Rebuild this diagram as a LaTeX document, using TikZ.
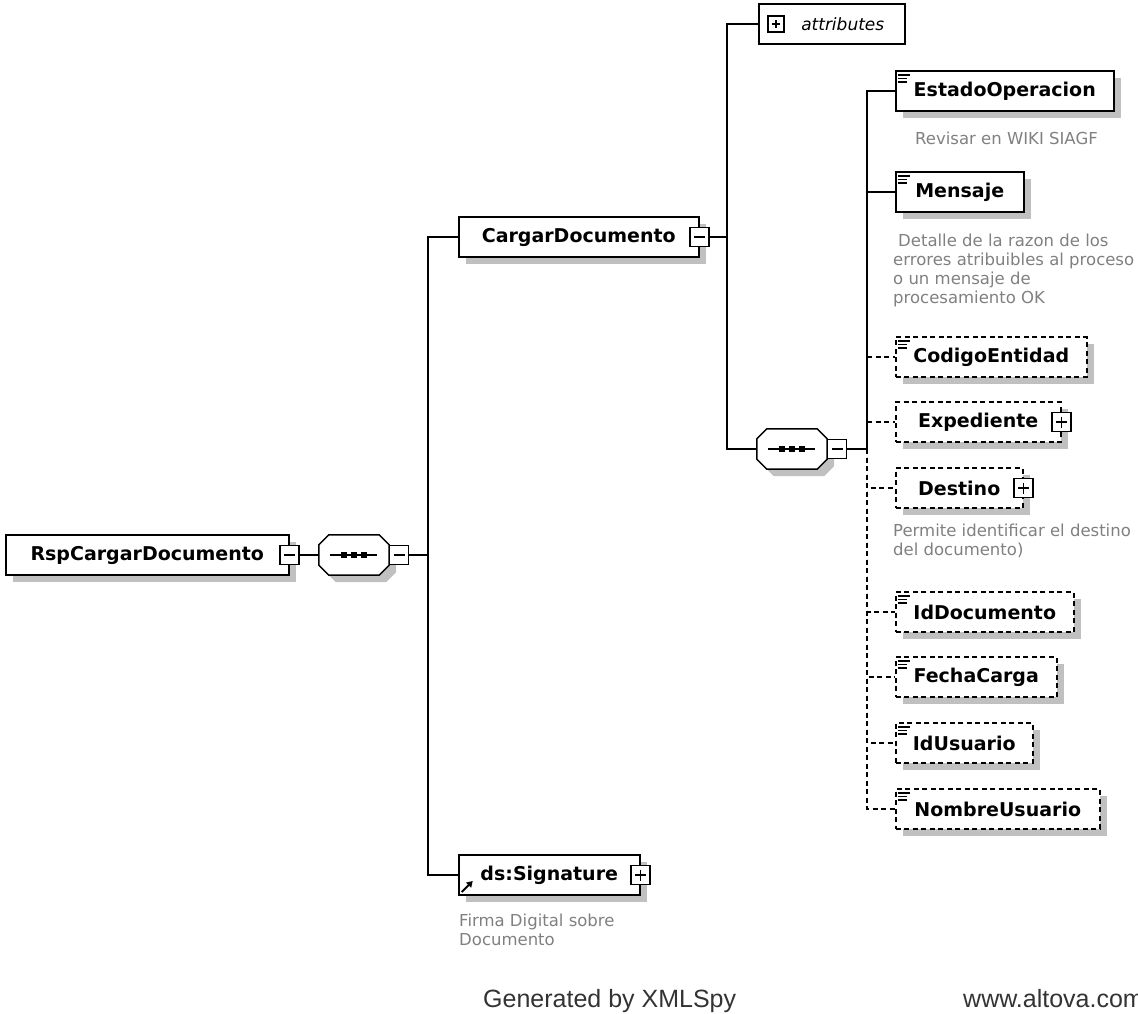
\documentclass[tikz,border=0pt]{standalone}
\usepackage{fontspec}
\setmainfont{DejaVu Sans}
\newfontfamily\fussfont{Liberation Sans}
\usetikzlibrary{shadows,arrows.meta}
\definecolor{schatten}{RGB}{192,192,192}
\definecolor{notiz}{RGB}{128,128,128}

%Achteck der Sequenz um einen Knoten
\newcommand{\achteck}[1]{([xshift=10pt]#1.north west) -- ([xshift=-10pt]#1.north east) -- ([yshift=-10pt]#1.north east)
	-- ([yshift=10pt]#1.south east) -- ([xshift=-10pt]#1.south east) -- ([xshift=10pt]#1.south west)
	-- ([yshift=10pt]#1.south west) -- ([yshift=-10pt]#1.north west) -- cycle}
\newcommand{\sequenz}[1]{%
	\fill[schatten, transform canvas={xshift=7pt, yshift=-7pt}] \achteck{#1};
	\draw[verb, fill=white] \achteck{#1};
	\draw[verb] ([xshift=11pt]#1.west) -- ([xshift=-12pt]#1.east);
	\foreach \d in {-10,0,10}
		\fill[black] ([xshift=\d pt]#1.center) +(-3pt,-3pt) rectangle +(3pt,3pt);
}

\tikzset{
	verb/.style={line width=1.5pt},
	gestr/.style={dash pattern=on 5pt off 3.5pt},
	elem/.style={draw, fill=white, line width=1.5pt, minimum height=40pt, inner xsep=2pt, anchor=west,
		font=\fontsize{19}{23}\selectfont\bfseries,
		drop shadow={shadow xshift=7pt, shadow yshift=-7pt, fill=schatten, opacity=1}},
	opt/.style={elem, gestr},
	einfach/.style={path picture={
			\draw[solid, line width=1.1pt] ([xshift=2pt,yshift=-4pt]path picture bounding box.north west) -- ++(12pt,0);
			\draw[solid, line width=1.1pt] ([xshift=2pt,yshift=-7.5pt]path picture bounding box.north west) -- ++(9pt,0);
			\draw[solid, line width=1.1pt] ([xshift=2pt,yshift=-11pt]path picture bounding box.north west) -- ++(9pt,0);}},
	verweis/.style={path picture={
			\draw[solid, line width=2pt, -{Triangle[length=6pt,width=7pt]}] ([xshift=3pt,yshift=3pt]path picture bounding box.south west) -- ++(11pt,11pt);}},
	klein/.style={draw, fill=white, solid, line width=1.2pt, minimum size=19pt, inner sep=0pt},
	minus/.style={klein, path picture={
			\draw[line width=1.2pt] ([xshift=4pt]path picture bounding box.west) -- ([xshift=-4pt]path picture bounding box.east);}},
	plus/.style={klein, path picture={
			\draw[line width=1.2pt] ([xshift=4pt]path picture bounding box.west) -- ([xshift=-4pt]path picture bounding box.east);
			\draw[line width=1.2pt] ([yshift=-4pt]path picture bounding box.north) -- ([yshift=4pt]path picture bounding box.south);}},
	seq/.style={minimum width=70pt, minimum height=40pt, inner sep=0pt},
	notiz/.style={font=\fontsize{16.5}{19}\selectfont, text=notiz, align=left, inner sep=0pt},
	fuss/.style={font=\fussfont\fontsize{25}{30}\selectfont, text=black!80, inner sep=0pt}
}

\begin{document}
\begin{tikzpicture}[x=1pt, y=1pt]
	
	\useasboundingbox (0,0) rectangle (1138,-1013);
	
	%Wurzel
	\node[elem, minimum width=283pt] (wurzel) at (5,-555) {RspCargarDocumento};
	\node[minus] (wurzelm) at (wurzel.east) {};
	
	%Sequenz aussen
	\node[seq] (seqA) at (354,-555) {};
	\sequenz{seqA}
	\node[minus, anchor=west] (seqAm) at (seqA.east) {};
	\coordinate (kA) at (428,-555);
	
	%CargarDocumento
	\node[elem, minimum width=240pt] (cargar) at (458,-237) {CargarDocumento};
	\node[minus] (cargarm) at (cargar.east) {};
	\coordinate (kB) at (727,-237);
	
	%Attribute
	\node[draw, line width=1.5pt, minimum width=146pt, minimum height=40pt, anchor=west,
		font=\fontsize{17}{20}\selectfont\itshape] (attr) at (758,-24) {\hspace*{22pt}attributes};
	\node[plus, minimum size=16pt] (attrp) at (776,-24) {};
	
	%Sequenz innen
	\node[seq] (seqB) at (792,-449) {};
	\sequenz{seqB}
	\node[minus, anchor=west] (seqBm) at (seqB.east) {};
	\coordinate (kC) at (867,-449);
	
	%Kindelemente
	\node[elem, einfach, minimum width=218pt] (estado) at (895,-91) {EstadoOperacion};
	\node[elem, einfach, minimum width=128pt] (mensaje) at (895,-192) {Mensaje};
	\node[opt, einfach, minimum width=191pt] (codigo) at (895,-357) {CodigoEntidad};
	\node[opt, minimum width=165pt] (exped) at (895,-422) {Expediente};
	\node[plus] (expedp) at (exped.east) {};
	\node[opt, minimum width=127pt] (destino) at (895,-488) {Destino};
	\node[plus] (destinop) at (destino.east) {};
	\node[opt, einfach, minimum width=178pt] (iddoc) at (895,-612) {IdDocumento};
	\node[opt, einfach, minimum width=161pt] (fecha) at (895,-677) {FechaCarga};
	\node[opt, einfach, minimum width=137pt] (idusr) at (895,-743) {IdUsuario};
	\node[opt, einfach, minimum width=204pt] (nombre) at (895,-809) {NombreUsuario};
	
	%Signatur
	\node[elem, verweis, minimum width=181pt] (sig) at (458,-875) {ds:Signature};
	\node[plus] (sigp) at (sig.east) {};
	
	%Verbindungen
	\draw[verb] (wurzelm.east) -- (seqA.west);
	\draw[verb] (seqAm.east) -- (kA);
	\draw[verb] (kA) |- (cargar.west);
	\draw[verb] (kA) |- (sig.west);
	\draw[verb] (cargarm.east) -- (kB);
	\draw[verb] (kB) |- (attr.west);
	\draw[verb] (kB) |- (seqB.west);
	\draw[verb] (seqBm.east) -- (kC);
	\draw[verb] (kC) |- (estado.west);
	\draw[verb] (kC) |- (mensaje.west);
	\draw[verb, gestr] (kC |- codigo.west) -- (codigo.west);
	\draw[verb, gestr] (kC |- exped.west) -- (exped.west);
	\draw[verb, gestr] (kC) |- (destino.west);
	\draw[verb, gestr] (kC) |- (iddoc.west);
	\draw[verb, gestr] (kC) |- (fecha.west);
	\draw[verb, gestr] (kC) |- (idusr.west);
	\draw[verb, gestr] (kC) |- (nombre.west);
	
	%Anmerkungen
	\node[notiz, anchor=base west] (nEstado) at (915,-144) {Revisar en WIKI SIAGF};
	\node[notiz, anchor=north west] (nMensaje) at (893,-234) {\hspace*{5pt}Detalle de la razon de los\\errores atribuibles al proceso\\o un mensaje de\\procesamiento OK};
	\node[notiz, anchor=north west] (nDestino) at (893,-524) {Permite identificar el destino\\del documento)};
	\node[notiz, anchor=north west] (nSig) at (459,-914) {Firma Digital sobre\\Documento};
	
	%Fusszeile
	\node[fuss, anchor=base west] (gen) at (483,-1007) {Generated by XMLSpy};
	\node[fuss, anchor=base west] (web) at (963,-1007) {www.altova.com};
	
\end{tikzpicture}
\end{document}
